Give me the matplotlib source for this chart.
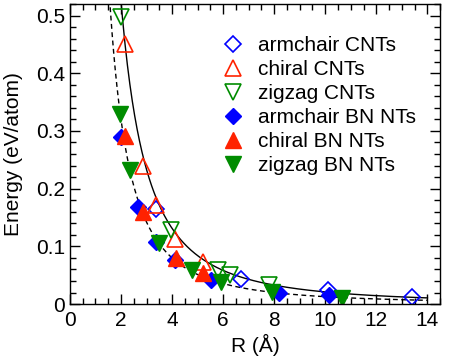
import numpy as np
import matplotlib
matplotlib.use('Agg')
import matplotlib.pyplot as plt
from matplotlib.ticker import MultipleLocator

plt.rcParams['font.family'] = ['Liberation Sans', 'DejaVu Sans']
plt.rcParams['font.size'] = 15

# armchair / chiral / zigzag CNTs (open symbols)
arm_cnt_r = [3.39, 6.70, 10.10, 13.40]
arm_cnt_e = [0.165, 0.044, 0.024, 0.013]
chi_cnt_r = [2.15, 2.86, 3.39, 4.10, 5.20]
chi_cnt_e = [0.450, 0.240, 0.171, 0.112, 0.073]
zig_cnt_r = [2.02, 3.97, 5.80, 6.25, 7.80]
zig_cnt_e = [0.497, 0.128, 0.059, 0.050, 0.033]

# BN nanotubes (filled symbols)
arm_bn_r = [2.00, 2.67, 3.39, 4.10, 5.53, 8.20, 10.16]
arm_bn_e = [0.289, 0.168, 0.108, 0.076, 0.042, 0.019, 0.016]
chi_bn_r = [2.15, 2.86, 4.17, 5.20]
chi_bn_e = [0.292, 0.160, 0.079, 0.053]
zig_bn_r = [1.95, 2.34, 3.50, 4.80, 5.92, 7.90, 10.67]
zig_bn_e = [0.330, 0.232, 0.105, 0.059, 0.039, 0.021, 0.010]

# fitted strain curves E = a / R^2
a_cnt = 2.1
a_bn = 1.28

blue = '#0000ff'
red = '#ff2200'
green = '#008c00'

fig = plt.figure(figsize=(4.51, 3.62), dpi=100)
ax = fig.add_axes([0.155, 0.16, 0.821, 0.829])

r = np.linspace(1.4, 14.0, 400)
ax.plot(r, a_cnt / r**2, color='black', lw=1.0, zorder=1)
ax.plot(r, a_bn / r**2, color='black', lw=1.0, ls=(0, (3.5, 2.5)), zorder=1)

ax.plot(arm_cnt_r, arm_cnt_e, 'D', ms=8, mfc='none', mec=blue, mew=1.2, ls='none', label='armchair CNTs')
ax.plot(chi_cnt_r, chi_cnt_e, '^', ms=11.5, mfc='none', mec=red, mew=1.2, ls='none', label='chiral CNTs')
ax.plot(zig_cnt_r, zig_cnt_e, 'v', ms=11.5, mfc='none', mec=green, mew=1.2, ls='none', label='zigzag CNTs')
ax.plot(arm_bn_r, arm_bn_e, 'D', ms=8, mfc=blue, mec=blue, ls='none', label='armchair BN NTs')
ax.plot(chi_bn_r, chi_bn_e, '^', ms=11.5, mfc=red, mec=red, ls='none', label='chiral BN NTs')
ax.plot(zig_bn_r, zig_bn_e, 'v', ms=11.5, mfc=green, mec=green, ls='none', label='zigzag BN NTs')

ax.set_xlim(0, 14.5)
ax.set_ylim(0, 0.52)
ax.xaxis.set_major_locator(MultipleLocator(2))
ax.xaxis.set_minor_locator(MultipleLocator(0.5))
ax.yaxis.set_major_locator(MultipleLocator(0.1))
ax.yaxis.set_minor_locator(MultipleLocator(0.02))
ax.set_yticks([0, 0.1, 0.2, 0.3, 0.4, 0.5])
ax.set_yticklabels(['0', '0.1', '0.2', '0.3', '0.4', '0.5'])
ax.tick_params(which='both', direction='in', top=True, right=True, width=1)
ax.tick_params(which='major', length=7)
ax.tick_params(which='minor', length=4)
ax.tick_params(axis='x', which='major', pad=5)
for s in ax.spines.values():
    s.set_linewidth(1.0)

ax.set_xlabel('R (Å)', labelpad=3)
ax.set_ylabel('Energy (eV/atom)', labelpad=9)

ax.legend(loc='upper left', bbox_to_anchor=(0.39, 0.92), frameon=False,
          numpoints=1, handlelength=1.0, handletextpad=0.7, labelspacing=0.24,
          borderaxespad=0)

fig.savefig('out.png', dpi=100)
